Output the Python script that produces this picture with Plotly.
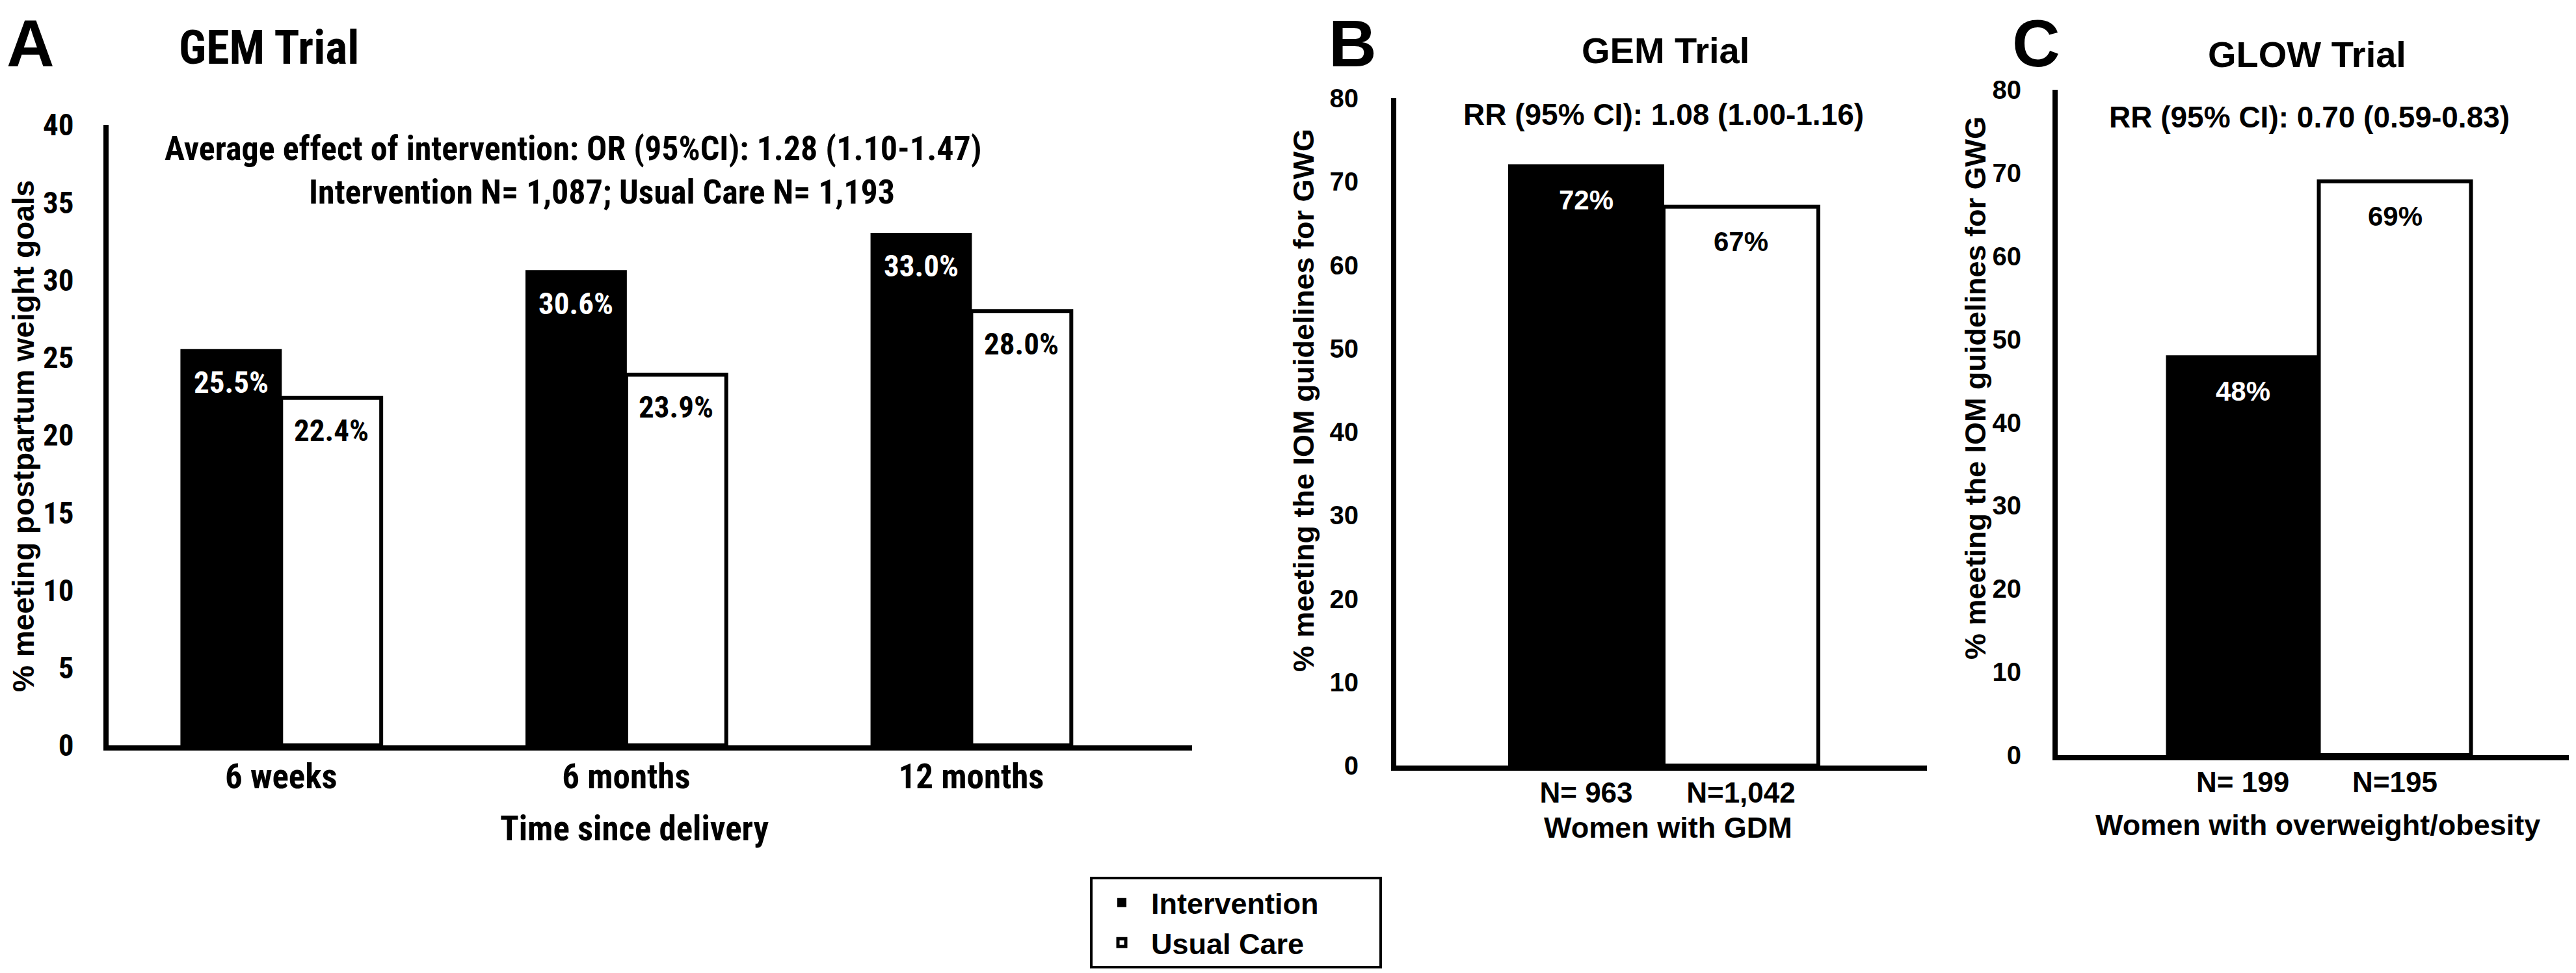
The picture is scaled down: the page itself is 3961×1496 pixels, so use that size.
import plotly.graph_objects as go

# ---------------- data ----------------
series_names = ["Intervention", "Usual Care"]

gem_categories = ["6 weeks", "6 months", "12 months"]
gem_intervention = [25.5, 30.6, 33.0]
gem_usual_care = [22.4, 23.9, 28.0]
gem_ticks = [0, 5, 10, 15, 20, 25, 30, 35, 40]

gwg_gem_labels = ["N= 963", "N=1,042"]
gwg_gem_values = [72, 67]

glow_labels = ["N= 199", "N=195"]
glow_values = [48, 69]
gwg_ticks = [0, 10, 20, 30, 40, 50, 60, 70, 80]

# ---------------- style ----------------
W, H = 3961, 1496
NARROW = "Roboto Condensed, Liberation Sans, Arial, sans-serif"
SANS = "Liberation Sans, Arial, Helvetica, sans-serif"
BLACK = "#000000"
WHITE = "#ffffff"
FILL = [BLACK, WHITE]
LINEW = [2, 6]
BAR_W = 0.29
NBSP = "\u00a0"


def px(p):
    return p / W


def py(p):
    return 1 - p / H


def f(fam, size, color=BLACK):
    return dict(family=fam, size=size, color=color, weight="bold")


fig = go.Figure()

# Panel A: grouped bars
for i, (name, vals) in enumerate(zip(series_names, [gem_intervention, gem_usual_care])):
    fig.add_trace(go.Bar(
        x=list(range(len(gem_categories))), y=vals, name=name + NBSP * 7,
        width=BAR_W, offset=-BAR_W if i == 0 else 0,
        marker=dict(color=FILL[i], line=dict(color=BLACK, width=LINEW[i])),
        legendgroup=name, showlegend=True, hoverinfo="skip",
        xaxis="x", yaxis="y"))

# Panels B and C: one bar per arm
for ax, vals in [("2", gwg_gem_values), ("3", glow_values)]:
    for i, name in enumerate(series_names):
        fig.add_trace(go.Bar(
            x=[i], y=[vals[i]], name=name, width=1, offset=-0.5,
            marker=dict(color=FILL[i], line=dict(color=BLACK, width=LINEW[i])),
            legendgroup=name, showlegend=False, hoverinfo="skip",
            xaxis="x" + ax, yaxis="y" + ax))

axis_common = dict(showline=True, linewidth=8, linecolor=BLACK, showgrid=False,
                   zeroline=False, ticks="", automargin=False, fixedrange=True)

fig.update_layout(
    width=W, height=H,
    margin=dict(l=0, r=0, t=0, b=0),
    paper_bgcolor=WHITE, plot_bgcolor=WHITE,
    barmode="overlay",
    xaxis=dict(domain=[px(159), px(1825)], range=[-0.5, 2.64],
               tickvals=list(range(len(gem_categories))), ticktext=gem_categories,
               tickfont=f(NARROW, 53), ticklabelstandoff=-6, anchor="y", **axis_common),
    yaxis=dict(domain=[py(1138), py(184)], range=[0, 40], tickvals=gem_ticks,
               tickfont=f(NARROW, 47), ticklabelstandoff=36, anchor="x", **axis_common),
    xaxis2=dict(domain=[px(2139), px(2955)], range=[-1.227, 2.202],
                tickvals=list(range(len(gwg_gem_labels))), ticktext=gwg_gem_labels,
                tickfont=f(SANS, 44), ticklabelstandoff=-4, anchor="y2", **axis_common),
    yaxis2=dict(domain=[py(1169), py(143)], range=[0, 80], tickvals=gwg_ticks,
                tickfont=f(SANS, 40), ticklabelstandoff=42, anchor="x2", **axis_common),
    xaxis3=dict(domain=[px(3156), px(3942)], range=[-1.216, 2.143],
                tickvals=list(range(len(glow_labels))), ticktext=glow_labels,
                tickfont=f(SANS, 44), ticklabelstandoff=-4, anchor="y3", **axis_common),
    yaxis3=dict(domain=[py(1153), py(130)], range=[0, 80], tickvals=gwg_ticks,
                tickfont=f(SANS, 40), ticklabelstandoff=40, anchor="x3", **axis_common),
    showlegend=True,
    legend=dict(x=px(1668), y=py(1340), xanchor="left", yanchor="top",
                bordercolor=BLACK, borderwidth=4, bgcolor=WHITE,
                font=f(SANS, 45), itemwidth=80, traceorder="normal",
                tracegroupgap=0),
)

ann = []


def text(x, y, s, font, xanchor="center", angle=0, yanchor="middle"):
    ann.append(dict(x=px(x), y=py(y), xref="paper", yref="paper", text=s,
                    showarrow=False, font=font, xanchor=xanchor, yanchor=yanchor,
                    textangle=angle))


# panel letters and titles
text(0, 0, "A", f(SANS, 102), xanchor="left", yanchor="top")
text(2072, 0, "B", f(SANS, 102), yanchor="top")
text(3123, 0, "C", f(SANS, 102), yanchor="top")
text(405, 66, "GEM Trial", f(NARROW, 72))
text(2553, 70, "GEM Trial", f(SANS, 56))
text(3539, 75, "GLOW Trial", f(SANS, 56))
# effect notes
text(873, 220, "Average effect of intervention: OR (95%CI): 1.28 (1.10-1.47)", f(NARROW, 52))
text(917, 287, "Intervention N= 1,087; Usual Care N= 1,193", f(NARROW, 52))
text(2550, 168, "RR (95% CI): 1.08 (1.00-1.16)", f(SANS, 46))
text(3543, 172, "RR (95% CI): 0.70 (0.59-0.83)", f(SANS, 46))
# axis titles
text(28, 663, "% meeting postpartum weight goals", f(SANS, 46), angle=-90)
text(1996, 607, "% meeting the IOM guidelines for GWG", f(SANS, 45), angle=-90)
text(3029, 589, "% meeting the IOM guidelines for GWG", f(SANS, 45), angle=-90)
text(968, 1266, "Time since delivery", f(NARROW, 53))
text(2557, 1264, "Women with GDM", f(SANS, 45))
text(3556, 1260, "Women with overweight/obesity", f(SANS, 45))

# bar value labels
label_colors = [WHITE, BLACK]
for i, vals in enumerate([gem_intervention, gem_usual_care]):
    for j, v in enumerate(vals):
        ann.append(dict(x=j + (-BAR_W / 2 if i == 0 else BAR_W / 2), y=v, xref="x", yref="y",
                        text=f"{v:.1f}%", showarrow=False, yshift=-50,
                        font=f(NARROW, 47, label_colors[i]), xanchor="center", yanchor="middle"))
for ax, vals in [("2", gwg_gem_values), ("3", glow_values)]:
    for i, v in enumerate(vals):
        ann.append(dict(x=i, y=v, xref="x" + ax, yref="y" + ax,
                        text=f"{v:.0f}%", showarrow=False, yshift=-54,
                        font=f(SANS, 42, label_colors[i]), xanchor="center", yanchor="middle"))

fig.update_layout(annotations=ann)
fig.write_html("out.html")
